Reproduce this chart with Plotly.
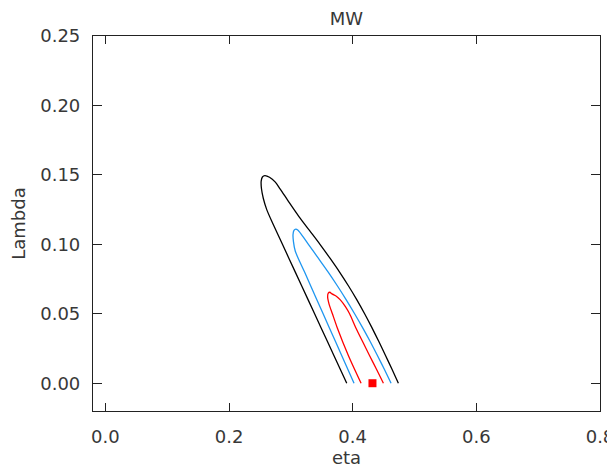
import plotly.graph_objects as go

# Contour paths (eta, Lambda)
black_eta = [0.3904, 0.3696, 0.3488, 0.3280, 0.3072, 0.2864, 0.2708, 0.2610, 0.2555, 0.2525,
             0.2520, 0.2540, 0.2580, 0.2655, 0.2745, 0.2825, 0.2975, 0.3131, 0.3301, 0.3471,
             0.3633, 0.3788, 0.3933, 0.4068, 0.4193, 0.4311, 0.4423, 0.4531, 0.4636, 0.4739]
black_lam = [0.0000, 0.0200, 0.0400, 0.0600, 0.0800, 0.1000, 0.1150, 0.1250, 0.1330, 0.1400,
             0.1455, 0.1485, 0.1495, 0.1483, 0.1450, 0.1400, 0.1300, 0.1200, 0.1100, 0.1000,
             0.0900, 0.0800, 0.0700, 0.0600, 0.0500, 0.0400, 0.0300, 0.0200, 0.0100, 0.0000]

blue_eta = [0.4022, 0.3822, 0.3622, 0.3422, 0.3222, 0.3072, 0.3042, 0.3035, 0.3050, 0.3080,
            0.3116, 0.3205, 0.3284, 0.3444, 0.3604, 0.3754, 0.3896, 0.4031, 0.4160, 0.4283,
            0.4400, 0.4512, 0.4621]
blue_lam = [0.0000, 0.0200, 0.0400, 0.0600, 0.0800, 0.0950, 0.1020, 0.1070, 0.1100, 0.1110,
            0.1101, 0.1050, 0.1000, 0.0900, 0.0800, 0.0700, 0.0600, 0.0500, 0.0400, 0.0300,
            0.0200, 0.0100, 0.0000]

red_eta = [0.4136, 0.3930, 0.3750, 0.3672, 0.3618, 0.3595, 0.3605, 0.3630, 0.3666, 0.3740,
           0.3800, 0.3885, 0.3950, 0.4050, 0.4160, 0.4272, 0.4385, 0.4497]
red_lam = [0.0000, 0.0200, 0.0400, 0.0500, 0.0570, 0.0620, 0.0648, 0.0655, 0.0643, 0.0625,
           0.0600, 0.0550, 0.0500, 0.0400, 0.0300, 0.0200, 0.0100, 0.0000]

best_eta = [0.432]
best_lam = [0.0]

x_ticks = [0.0, 0.2, 0.4, 0.6, 0.8]
x_ticktext = ["0.0", "0.2", "0.4", "0.6", "0.8"]
y_ticks = [0.0, 0.05, 0.10, 0.15, 0.20, 0.25]
y_ticktext = ["0.00", "0.05", "0.10", "0.15", "0.20", "0.25"]

FONT = "DejaVu Sans"
TXT = "#383838"

# The page places the figure 8px in from the top-left corner, so the figure is
# sized 607x461 and its margins are shifted to land where the reference has them.
W, H = 607, 461

fig = go.Figure()
for xs, ys, col in [(black_eta, black_lam, "black"),
                    (blue_eta, blue_lam, "rgb(30,150,240)"),
                    (red_eta, red_lam, "rgb(255,0,0)")]:
    fig.add_trace(go.Scatter(x=xs, y=ys, mode="lines",
                             line=dict(color=col, width=1.3, shape="spline", smoothing=0.8),
                             showlegend=False, hoverinfo="skip"))
fig.add_trace(go.Scatter(x=best_eta, y=best_lam, mode="markers",
                         marker=dict(symbol="square", size=8, color="rgb(255,0,0)"),
                         showlegend=False))

axis_common = dict(showgrid=False, zeroline=False, showline=True, linecolor="#222222",
                   linewidth=1.2, mirror="ticks", ticks="inside", tickcolor="#222222",
                   tickwidth=1.2, automargin=False,
                   tickfont=dict(family=FONT, size=18, color=TXT))

fig.update_xaxes(range=[-0.02, 0.8], tickvals=x_ticks, ticktext=x_ticktext, ticklen=8,
                 ticklabelstandoff=9,
                 title=dict(text="eta", font=dict(family=FONT, size=18, color=TXT), standoff=4),
                 **axis_common)
fig.update_yaxes(range=[-0.02, 0.25], tickvals=y_ticks, ticktext=y_ticktext, ticklen=9,
                 ticklabelstandoff=8,
                 title=dict(text="Lambda", font=dict(family=FONT, size=18, color=TXT), standoff=10),
                 **axis_common)

fig.update_layout(
    width=W, height=H,
    margin=dict(l=85, r=15, t=28, b=58, autoexpand=False),
    paper_bgcolor="white", plot_bgcolor="white",
    title=dict(text="MW", x=338.5 / W, xanchor="center", y=1 - 11 / H, yanchor="middle",
               yref="container", font=dict(family=FONT, size=18, color=TXT)),
)

fig.write_html("out.html")
